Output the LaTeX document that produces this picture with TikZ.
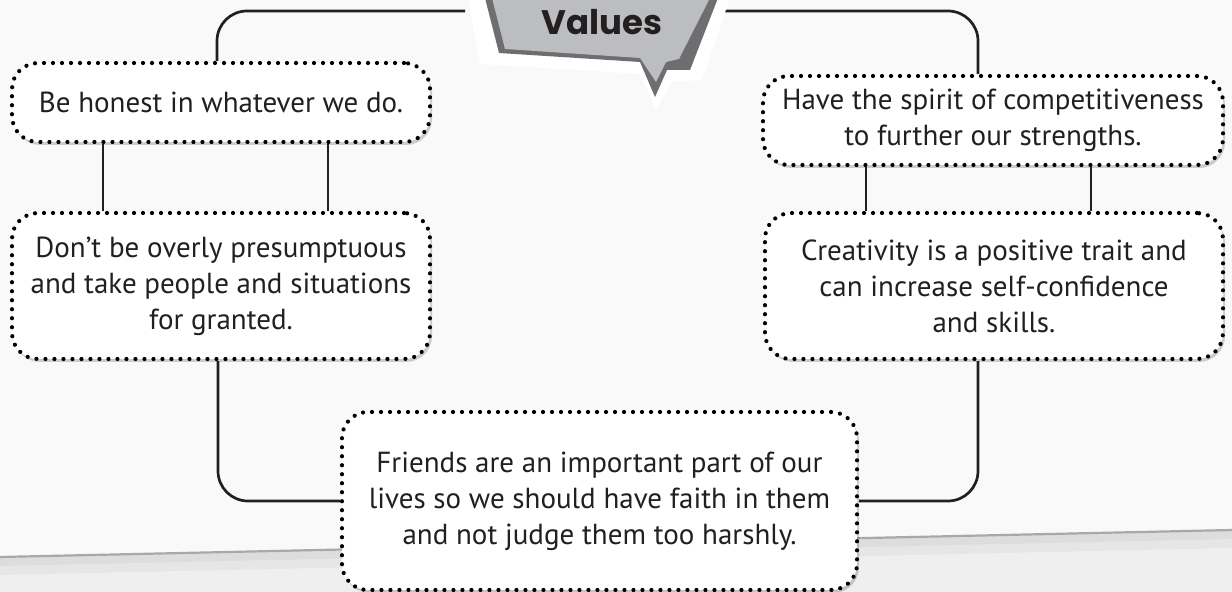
\documentclass[tikz,border=0pt]{standalone}
\usepackage{fontspec}
\setmainfont{PT Sans}
\newfontfamily\valuesfont{Poppins}
\usetikzlibrary{shadows}
\definecolor{bgtop}{HTML}{F9F9F9}
\definecolor{bgbot}{HTML}{EFEFEF}
\definecolor{edgeline}{HTML}{A8A8A8}
\definecolor{txt}{HTML}{231F20}
\definecolor{bandark}{HTML}{6E6E70}
\definecolor{banlight}{HTML}{BCBDC0}
\begin{document}
\begin{tikzpicture}[x=0.5pt,y=-0.5pt,
  box/.style={draw=black, fill=white, line width=2.1pt, dash pattern=on 0pt off 4.5pt,
    line cap=round, rounded corners=13pt, align=center, inner sep=0pt, text=txt,
    font=\fontsize{14.5}{18}\selectfont,
    drop shadow={shadow xshift=1pt, shadow yshift=-1.5pt, fill=black, opacity=0.18}},
  conn/.style={draw=txt, line width=1.35pt, rounded corners=15pt}]
\useasboundingbox (0,0) rectangle (1232,592);
% background
\fill[bgtop] (0,0) rectangle (1232,592);
\fill[bgbot] (0,557) -- (1232,530) -- (1232,592) -- (0,592) -- cycle;
\fill[black, opacity=0.035] (0,557) -- (1232,530) -- (1232,548) -- (0,575) -- cycle;
\fill[black, opacity=0.035] (0,557) -- (1232,530) -- (1232,539) -- (0,566) -- cycle;
\draw[edgeline, line width=1.1pt] (0,557) -- (1232,530);
% coordinates for connectors
\coordinate (t1) at (217,0);
\coordinate (t2) at (978,0);
\coordinate (tl) at (465,11);
\coordinate (tr) at (723,11);
\coordinate (c1) at (103,0);
\coordinate (c2) at (328,0);
\coordinate (d1) at (866,0);
\coordinate (d2) at (1091,0);
\coordinate (b1) at (218,0);
\coordinate (b2) at (978,0);
% boxes
\node[box, minimum width=209pt, minimum height=39.5pt] (A) at (221,102.5)
  {Be honest in whatever we do.};
\node[box, minimum width=230pt, minimum height=44.5pt] (B) at (993,120.5)
  {Have the spirit of competitiveness\\to further our strengths.};
\node[box, minimum width=209pt, minimum height=73pt] (C) at (221,286)
  {Don’t be overly presumptuous\\and take people and situations\\for granted.};
\node[box, minimum width=229pt, minimum height=73pt] (D) at (994,286)
  {Creativity is a positive trait and\\can increase self-confidence\\and skills.};
\node[box, minimum width=257.5pt, minimum height=89pt] (E) at (599.5,501)
  {Friends are an important part of our\\lives so we should have faith in them\\and not judge them too harshly.};
% connectors
\draw[conn] (A.north -| t1) |- (tl);
\draw[conn] (tr) -| (B.north -| t2);
\draw[conn] (A.south -| c1) -- (C.north -| c1);
\draw[conn] (A.south -| c2) -- (C.north -| c2);
\draw[conn] (B.south -| d1) -- (D.north -| d1);
\draw[conn] (B.south -| d2) -- (D.north -| d2);
\draw[conn] (C.south -| b1) |- (E.west);
\draw[conn] (D.south -| b2) |- (E.east);
% Values banner
\fill[white] (468,-2) -- (480,64) -- (640,74) -- (656,110) -- (672,82) -- (702,80) -- (730,-2) -- cycle;
\fill[bandark] (485,-2) -- (499,53) -- (640,62) -- (655,97) -- (667,70) -- (690,70) -- (718,-2) -- cycle;
\fill[banlight] (492,-2) -- (505,49) -- (640,58) -- (656,82) -- (666,62) -- (679,59) -- (710,-2) -- cycle;
\node[text=txt, font=\valuesfont\bfseries\fontsize{17}{19}\selectfont, inner sep=0pt] (V) at (602,22) {Values};
\end{tikzpicture}
\end{document}
